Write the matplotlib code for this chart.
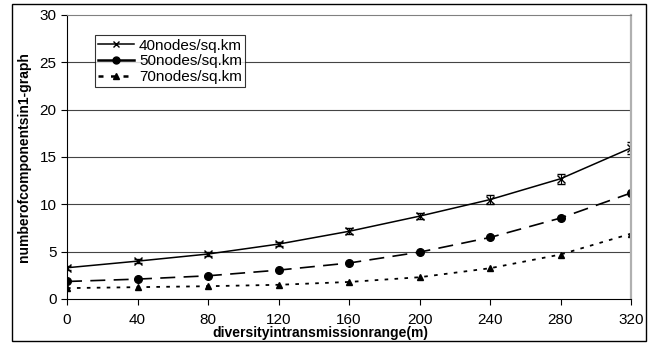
import matplotlib.pyplot as plt
from matplotlib.lines import Line2D
from matplotlib.patches import Rectangle

plt.rcParams['font.family'] = ['Liberation Sans', 'DejaVu Sans']

# transmission range diversity (m)
ranges = [0, 40, 80, 120, 160, 200, 240, 280, 320]

# number of components in 1-graph for each node density
n40 = [3.3, 4.0, 4.75, 5.8, 7.15, 8.75, 10.5, 12.7, 15.95]
n50 = [1.85, 2.1, 2.45, 3.05, 3.8, 4.95, 6.5, 8.55, 11.2]
n70 = [1.15, 1.25, 1.35, 1.5, 1.8, 2.3, 3.25, 4.7, 6.9]

# error bars
e40 = [0.2, 0.2, 0.25, 0.25, 0.3, 0.35, 0.5, 0.5, 0.65]
e50 = [0.1, 0.1, 0.1, 0.1, 0.15, 0.15, 0.2, 0.25, 0.35]

labels = ['40nodes/sq.km', '50nodes/sq.km', '70nodes/sq.km']
yticks = [0, 5, 10, 15, 20, 25, 30]

fig = plt.figure(figsize=(6.51, 3.43), dpi=100)
ax = fig.add_axes([67 / 651, 44 / 343, 564 / 651, 284 / 343])

# outer frame round the whole chart
fig.patches.append(Rectangle((12 / 651, 2 / 343), 634 / 651, 337 / 343,
                             transform=fig.transFigure, fill=False,
                             edgecolor='black', linewidth=1.0))

ax.errorbar(ranges, n40, yerr=e40, color='black', linewidth=1.1,
            marker='x', markersize=6, markeredgewidth=1.0,
            capsize=3, elinewidth=0.8)
ax.errorbar(ranges, n50, yerr=e50, color='black', linewidth=1.2,
            linestyle=(0, (9, 5)), marker='o', markersize=5.5,
            capsize=2, elinewidth=0.8)
ax.plot(ranges, n70, color='black', linewidth=1.3,
        linestyle=(0, (2, 3.5)), marker='^', markersize=5)

ax.set_xlim(0, 320)
ax.set_ylim(0, 30)
ax.set_xticks(ranges)
ax.set_yticks(yticks)
ax.tick_params(axis='both', labelsize=11, length=4, width=0.8,
               color='black', direction='out')
ax.tick_params(axis='x', pad=6)

for y in yticks[1:-1]:
    ax.axhline(y, color='#444444', linewidth=0.8, zorder=0)

ax.spines['top'].set_color('#808080')
ax.spines['right'].set_color('#b0b0b0')
ax.spines['right'].set_linewidth(1.6)
ax.spines['left'].set_color('black')
ax.spines['bottom'].set_color('black')

ax.set_xlabel('diversityintransmissionrange(m)', fontsize=10,
              fontweight='bold', labelpad=1)
ax.xaxis.set_label_coords(0.449, -0.095)
ax.set_ylabel('numberofcomponentsin1-graph', fontsize=10,
              fontweight='bold', labelpad=6)

# legend samples without the error bars
handles = [
    Line2D([], [], color='black', linewidth=1.1, marker='x', markersize=5),
    Line2D([], [], color='black', linewidth=1.8, marker='o', markersize=5),
    Line2D([], [], color='black', linewidth=1.8, linestyle=(0, (2, 3)),
           marker='^', markersize=5),
]
leg = ax.legend(handles, labels, loc='upper left',
                bbox_to_anchor=(0.049, 0.928),
                fontsize=11, frameon=True, fancybox=False,
                edgecolor='black', handlelength=2.4, borderpad=0.2,
                labelspacing=0.12, handletextpad=0.3, borderaxespad=0)
leg.get_frame().set_linewidth(0.8)

fig.savefig('out.png', dpi=100)
